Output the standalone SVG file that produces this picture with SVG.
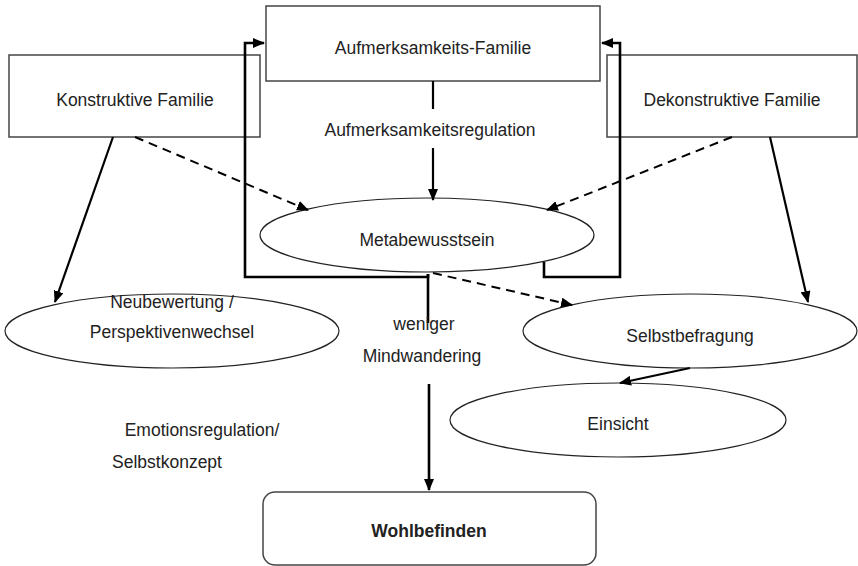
<svg xmlns="http://www.w3.org/2000/svg" width="858" height="566" viewBox="0 0 858 566">
<defs>
<marker id="ah" markerUnits="userSpaceOnUse" markerWidth="12" markerHeight="10" refX="11" refY="5" orient="auto"><path d="M0,0 L12,5 L0,10 Z" fill="#000"/></marker>
<style>
.box{fill:#fff;stroke:#444;stroke-width:1.5}
.ell{fill:#fff;stroke:#222;stroke-width:1.2}
.t{font-family:"Liberation Sans",Arial,sans-serif;font-size:17.5px;fill:#222;text-anchor:middle}
.b{font-weight:bold}
.thick{fill:none;stroke:#000;stroke-width:2.6}
.solid{fill:none;stroke:#000;stroke-width:2.2}
.dash{fill:none;stroke:#000;stroke-width:2;stroke-dasharray:9 6}
</style>
</defs>
<rect width="858" height="566" fill="#fff"/>
<g id="konstruktive">
<rect class="box" x="9" y="55" width="251" height="82"/>
<text class="t" x="135" y="106">Konstruktive Familie</text>
</g>
<g id="dekonstruktive">
<rect class="box" x="607" y="55" width="250" height="82"/>
<text class="t" x="732" y="106">Dekonstruktive Familie</text>
</g>
<g id="aufmerksamkeit">
<rect class="box" x="266" y="6" width="334" height="75"/>
<text class="t" x="433" y="54">Aufmerksamkeits-Familie</text>
</g>
<g id="metabewusstsein">
<ellipse class="ell" cx="427" cy="235" rx="167" ry="37"/>
<text class="t" x="427" y="246">Metabewusstsein</text>
</g>
<g id="neubewertung">
<ellipse class="ell" cx="172" cy="331" rx="167" ry="37"/>
<text class="t" x="172" y="308">Neubewertung /</text>
<text class="t" x="172" y="338">Perspektivenwechsel</text>
</g>
<g id="selbstbefragung">
<ellipse class="ell" cx="690" cy="331" rx="167" ry="37"/>
<text class="t" x="690" y="342">Selbstbefragung</text>
</g>
<g id="einsicht">
<ellipse class="ell" cx="618" cy="420" rx="168" ry="37"/>
<text class="t" x="618" y="430">Einsicht</text>
</g>
<g id="wohlbefinden">
<rect class="box" x="263" y="492" width="333" height="73" rx="12"/>
<text class="t b" x="429" y="537">Wohlbefinden</text>
</g>
<g id="connectors">
<line class="solid" x1="433" y1="81" x2="433" y2="109"/>
<line class="solid" x1="433" y1="148" x2="433" y2="200" marker-end="url(#ah)"/>
<path class="thick" d="M428,274 L428,277 L245,277 L245,43 L264,43" marker-end="url(#ah)"/>
<path class="thick" d="M544,262 L544,277 L620,277 L620,43 L602,43" marker-end="url(#ah)"/>
<line class="thick" x1="428" y1="274" x2="428" y2="323"/>
<line class="thick" x1="429" y1="384" x2="429" y2="490" marker-end="url(#ah)"/>
<line class="solid" x1="113" y1="137" x2="55" y2="302" marker-end="url(#ah)"/>
<line class="dash" x1="135" y1="137" x2="308" y2="210" marker-end="url(#ah)"/>
<line class="dash" x1="732" y1="137" x2="547" y2="210" marker-end="url(#ah)"/>
<line class="solid" x1="770" y1="137" x2="808" y2="302" marker-end="url(#ah)"/>
<line class="dash" x1="433" y1="273" x2="572" y2="305" marker-end="url(#ah)"/>
<line class="solid" x1="690" y1="368" x2="620" y2="383" marker-end="url(#ah)"/>
</g>
<g id="labels">
<text class="t" x="430" y="136">Aufmerksamkeitsregulation</text>
<text class="t" x="424" y="330">weniger</text>
<text class="t" x="422" y="362">Mindwandering</text>
<text class="t" x="202" y="436">Emotionsregulation/</text>
<text class="t" x="167" y="468">Selbstkonzept</text>
</g>
</svg>
